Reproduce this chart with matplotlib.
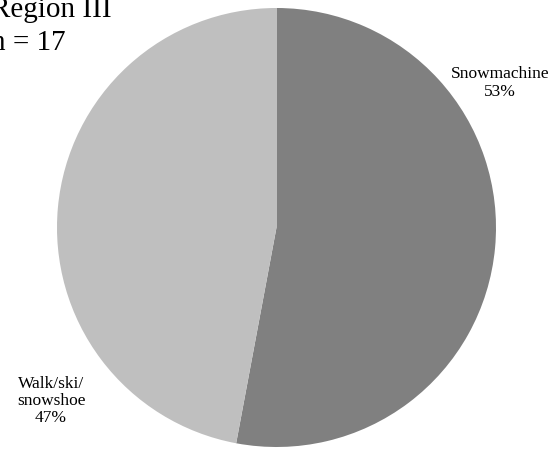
import matplotlib.pyplot as plt

plt.rcParams['font.family'] = ['Liberation Serif', 'DejaVu Serif']

categories = ['Snowmachine', 'Walk/ski/\nsnowshoe']
counts = [9, 8]
percent_labels = ['53%', '47%']
colors = ['#808080', '#bfbfbf']

W, H = 557, 449
fig = plt.figure(figsize=(W / 100, H / 100), dpi=100)
ax = fig.add_axes([0, 0, 1, 1])

ax.pie(counts, colors=colors, startangle=90, counterclock=False,
       center=(276.5, H - 227.5), radius=219.5, frame=True,
       wedgeprops=dict(linewidth=0))
ax.set_xlim(0, W)
ax.set_ylim(0, H)
ax.set_aspect('equal')
ax.axis('off')

# slice labels
ax.text(500, H - 83, f'{categories[0]}\n{percent_labels[0]}', ha='center',
        va='center', fontsize=12.5, linespacing=1.12)
ax.text(51, H - 401, f'{categories[1]}\n{percent_labels[1]}', ha='center',
        va='center', fontsize=12.5, linespacing=1.1)

# title, partly cut off at the left edge
ax.text(-9, H - 17, 'Region III', ha='left', va='baseline', fontsize=21)
ax.text(-9, H - 50, 'n = 17', ha='left', va='baseline', fontsize=21)

fig.savefig('out.png', dpi=100)
